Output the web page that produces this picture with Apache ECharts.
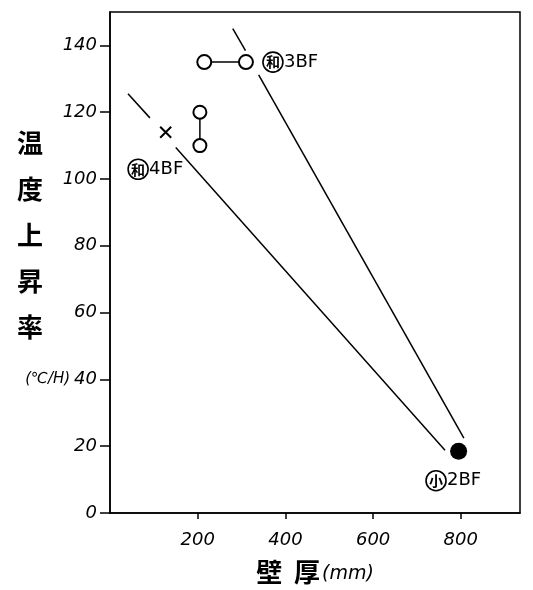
<!DOCTYPE html>
<html>
<head>
<meta charset="utf-8">
<script src="https://cdn.jsdelivr.net/npm/echarts@6/dist/echarts.min.js"></script>
<style>
  html, body { margin: 0; padding: 0; background: #fff; }
  #chart { width: 533px; height: 590px; }
</style>
</head>
<body>
<div id="chart"></div>
<script>
// 壁厚 (mm) と 温度上昇率 (℃/H)
var xTickLabels = [200, 400, 600, 800];
var yTickLabels = [0, 20, 40, 60, 80, 100, 120, 140];

var pts3BF = [[215, 135], [310, 135]];     // 和3BF 横に結ぶ
var ptsMid = [[205, 120], [205, 110]];     // 縦に結ぶ
var pt4BF = [[127, 114]];                  // ×
var pt2BF = [[795, 18.5]];                 // ●

// 直線 (途中で切れている)
var line4BF = [
  [[41, 125.5], [91, 118.3]],
  [[150, 109.4], [764, 18.8]]
];
var line3BF = [
  [[280, 145], [309, 138.4]],
  [[339, 131.2], [807, 22.4]]
];

var jp = '"Noto Sans CJK JP", sans-serif';
var numFont = '"DejaVu Sans", sans-serif';

var circleTag = {
  fontFamily: jp, fontSize: 14, fontWeight: 'bold', color: '#000',
  borderColor: '#000', borderWidth: 1.6, borderRadius: 11,
  width: 20, height: 20, align: 'center', lineHeight: 20
};
var tagText = { fontFamily: numFont, fontSize: 18, color: '#000', padding: [0, 0, 0, 1] };

var series = [];
line4BF.concat(line3BF).forEach(function (seg) {
  series.push({
    type: 'line', data: seg, symbol: 'none', silent: true,
    lineStyle: { color: '#000', width: 1.5 }, z: 1
  });
});

series.push({
  type: 'line', data: pts3BF, symbol: 'circle', symbolSize: 14,
  itemStyle: { color: '#fff', borderColor: '#000', borderWidth: 2 },
  lineStyle: { color: '#000', width: 1.5 }, z: 3,
  label: {
    show: true, position: 'right', distance: 9, color: '#000',
    formatter: function (p) { return p.dataIndex === 1 ? '{c|和}{t|3BF}' : ''; },
    rich: { c: circleTag, t: tagText }
  }
});
series.push({
  type: 'line', data: ptsMid, symbol: 'circle', symbolSize: 13,
  itemStyle: { color: '#fff', borderColor: '#000', borderWidth: 2 },
  lineStyle: { color: '#000', width: 1.5 }, z: 3
});
series.push({
  type: 'line', data: pt4BF, symbol: 'path://M0,0L10,10M10,0L0,10', symbolSize: 11,
  showSymbol: true, showAllSymbol: true,
  itemStyle: { color: 'none', borderColor: '#000', borderWidth: 2, opacity: 1 }, z: 3,
  label: {
    show: true, position: 'bottom', distance: 5, offset: [-10, 14], color: '#000',
    textBorderWidth: 0,
    formatter: '{c|和}{t|4BF}',
    rich: { c: circleTag, t: tagText }
  }
});
series.push({
  type: 'line', data: pt2BF, symbol: 'circle', symbolSize: 17,
  showSymbol: true, showAllSymbol: true,
  itemStyle: { color: '#000', opacity: 1 }, z: 3,
  label: {
    show: true, position: 'bottom', distance: 5, offset: [-5, 6], color: '#000',
    textBorderWidth: 0,
    formatter: '{c|小}{t|2BF}',
    rich: { c: circleTag, t: tagText }
  }
});

var chart = echarts.init(document.getElementById('chart'));
chart.setOption({
  backgroundColor: '#fff',
  animation: false,
  grid: {
    left: 110, right: 13, top: 12, bottom: 75,
    show: true, borderColor: '#000', borderWidth: 1.5
  },
  xAxis: {
    type: 'value', min: 0, max: 935, interval: 200,
    name: '{a|壁  厚}{b|(mm)}', nameLocation: 'middle', nameGap: 46,
    nameTextStyle: {
      rich: {
        a: { fontFamily: jp, fontSize: 26, fontWeight: 'bold', color: '#000' },
        b: { fontFamily: numFont, fontSize: 19, fontStyle: 'italic', color: '#000', padding: [4, 0, 0, 2] }
      }
    },
    axisLine: { show: true, lineStyle: { color: '#000', width: 1.5 } },
    axisTick: { show: true, inside: false, length: 6, lineStyle: { color: '#000', width: 1.5 } },
    splitLine: { show: false },
    axisLabel: {
      margin: 18, color: '#000', fontFamily: numFont, fontStyle: 'italic', fontSize: 18,
      showMinLabel: false, showMaxLabel: false,
      formatter: function (v) { return xTickLabels.indexOf(v) >= 0 ? String(v) : ''; }
    }
  },
  yAxis: {
    type: 'value', min: 0, max: 150, interval: 20,
    axisLine: { show: true, lineStyle: { color: '#000', width: 1.5 } },
    axisTick: { show: true, inside: false, length: 10, lineStyle: { color: '#000', width: 1.5 } },
    splitLine: { show: false },
    axisLabel: {
      margin: 13, color: '#000', fontFamily: numFont, fontStyle: 'italic', fontSize: 18,
      showMaxLabel: false,
      formatter: function (v) {
        if (yTickLabels.indexOf(v) < 0) return '';
        return v === 40 ? '{u|(℃/H)}' + v : String(v);
      },
      rich: { u: { fontFamily: numFont, fontSize: 15, fontStyle: 'italic', color: '#000', padding: [0, 4, 0, 0] } }
    }
  },
  graphic: [{
    type: 'text', left: 17, top: 120,
    style: {
      text: '温\n度\n上\n昇\n率', fontFamily: jp, fontSize: 26, fontWeight: 'bold',
      lineHeight: 46, fill: '#000', align: 'center'
    }
  }],
  series: series
});
</script>
</body>
</html>
